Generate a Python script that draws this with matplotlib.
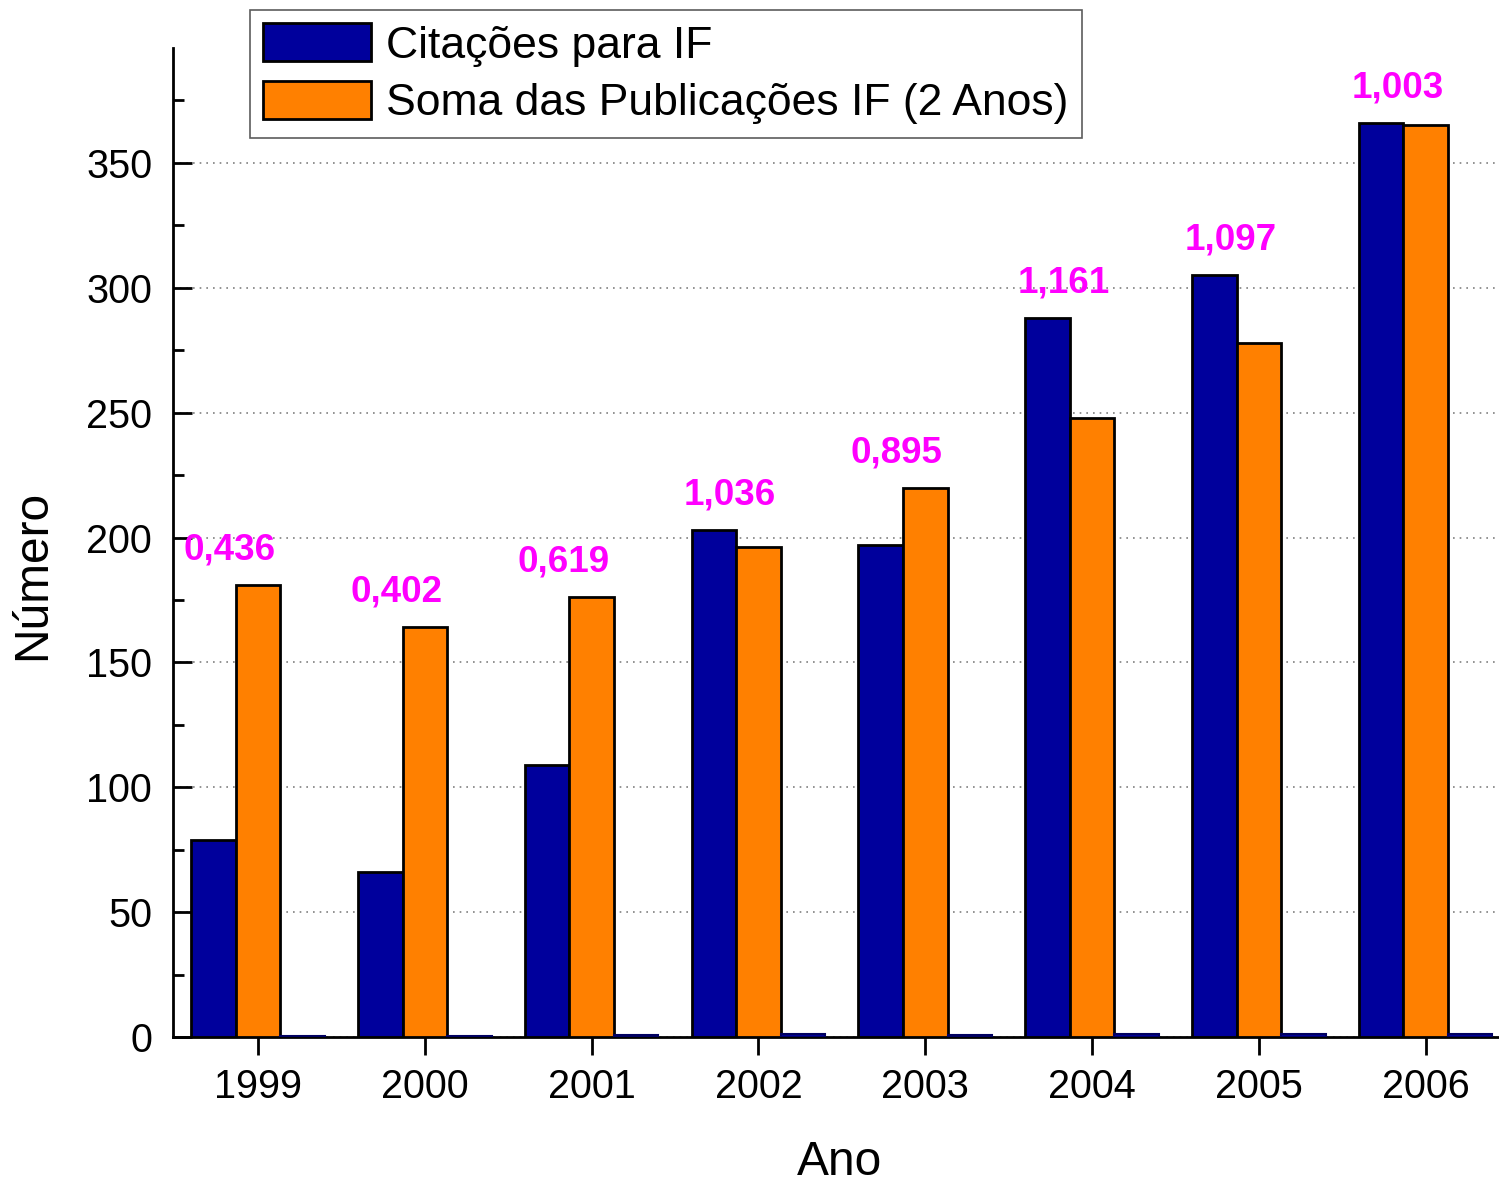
import matplotlib
matplotlib.use("Agg")
import matplotlib.pyplot as plt
import numpy as np
from matplotlib.ticker import MultipleLocator

years = [1999, 2000, 2001, 2002, 2003, 2004, 2005, 2006]
citacoes = [79, 66, 109, 203, 197, 288, 305, 366]
publicacoes = [181, 164, 176, 196, 220, 248, 278, 365]
fator_impacto = [0.436, 0.402, 0.619, 1.036, 0.895, 1.161, 1.097, 1.003]
if_labels = ["0,436", "0,402", "0,619", "1,036", "0,895", "1,161", "1,097", "1,003"]

plt.rcParams['font.family'] = ['Liberation Sans', 'DejaVu Sans']

fig = plt.figure(figsize=(14.99, 11.85), dpi=100)
ax = fig.add_axes([173/1499, 1-1037/1185, 1-173/1499, (1037-48)/1185])

x = np.array(years, dtype=float)
w = 0.267
blue = '#00009C'
orange = '#FF8000'
ax.bar(x - w, citacoes, w, color=blue, edgecolor='black', linewidth=2,
       label='Citações para IF', zorder=3)
ax.bar(x, publicacoes, w, color=orange, edgecolor='black', linewidth=2,
       label='Soma das Publicações IF (2 Anos)', zorder=3)
ax.bar(x + w, fator_impacto, w, color=blue, edgecolor='#000060', linewidth=1.5,
       zorder=3)

for xi, c, p, lab in zip(x, citacoes, publicacoes, if_labels):
    ax.text(xi - 0.17, max(c, p) + 14, lab, color='#FF00FF', fontsize=26.5,
            fontweight='bold', ha='center', va='center', zorder=4)

ax.set_xlim(1998.49, 2006.44)
ax.set_ylim(0, 396)
ax.set_xticks(years)
ax.set_xticklabels([str(y) for y in years])
ax.yaxis.set_major_locator(MultipleLocator(50))
ax.yaxis.set_minor_locator(MultipleLocator(25))
ax.tick_params(axis='y', which='major', direction='in', length=14, width=2,
               labelsize=28.5, pad=15)
ax.tick_params(axis='y', which='minor', direction='in', length=8, width=2)
ax.tick_params(axis='x', which='major', direction='out', length=13, width=2,
               labelsize=28.5, pad=9)
for s in ['top', 'right']:
    ax.spines[s].set_visible(False)
for s in ['left', 'bottom']:
    ax.spines[s].set_linewidth(2)

ax.yaxis.grid(True, which='major', linestyle=(0, (1, 3)), color='#808080',
              linewidth=1.2, zorder=0)
ax.set_axisbelow(True)

ax.set_ylabel('Número', fontsize=34.5, va='center')
ax.yaxis.set_label_coords(-0.106, 0.467)
ax.set_xlabel('Ano', fontsize=34.5, va='center')
ax.xaxis.set_label_coords(0.503, -0.127)

leg = fig.legend(loc='upper left', bbox_to_anchor=(250/1499, 1-10/1185),
                 fontsize=32, frameon=True, fancybox=False, handlelength=2.43,
                 handleheight=0.93, handletextpad=0.34, labelspacing=0.33,
                 borderpad=0.3, borderaxespad=0)
leg.get_frame().set_edgecolor('#333333')
leg.get_frame().set_linewidth(1.2)
for h in leg.legend_handles:
    h.set_linewidth(2)

fig.savefig('out.png', dpi=100)
